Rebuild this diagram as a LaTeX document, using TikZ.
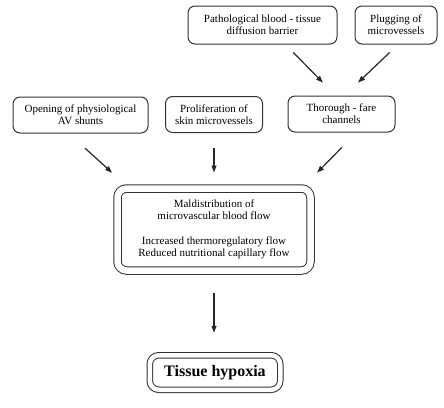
\documentclass[tikz,border=0pt]{standalone}
\usepackage{fontspec}
\setmainfont{Liberation Serif}
\usetikzlibrary{arrows.meta}

\begin{document}
\begin{tikzpicture}[x=1pt,y=-1pt,
    box/.style={draw=black!80, line width=1pt, rounded corners=7pt, align=center, inner sep=0pt, font=\fontsize{11}{12}\selectfont},
    dbox/.style={draw=black!80, line width=1pt, double, double distance=6.5pt, rounded corners=9pt, align=center, inner sep=0pt},
    arr/.style={line width=1.2pt, draw=black!85, -{Triangle[length=7pt,width=5pt]}}]
  \useasboundingbox (0,0) rectangle (444,407);
  \node[box, minimum width=149pt, minimum height=38pt] (path) at (262.5,25) {Pathological blood - tissue\\diffusion barrier};
  \node[box, minimum width=82pt, minimum height=38pt] (plug) at (396,25) {Plugging of\\microvessels};
  \node[box, minimum width=135pt, minimum height=36pt] (open) at (80.5,115) {Opening of physiological\\AV shunts};
  \node[box, minimum width=97pt, minimum height=36pt] (prolif) at (214,114.5) {Proliferation of\\skin microvessels};
  \node[box, minimum width=107pt, minimum height=36pt] (thor) at (341.5,114) {Thorough - fare\\channels};
  \node[dbox, minimum width=193pt, minimum height=82pt, font=\fontsize{11}{12}\selectfont] (main) at (214,229.5)
    {Maldistribution of\\microvascular blood flow\\[13pt]Increased thermoregulatory flow\\Reduced nutritional capillary flow};
  \node[dbox, double distance=4.5pt, minimum width=130.5pt, minimum height=34.5pt, font=\fontsize{16}{18}\selectfont\bfseries] (hyp) at (215,372.5) {Tissue hypoxia};
  \draw[arr, shorten <=11pt, shorten >=18pt] ([xshift=23pt]path.south) -- ([xshift=-6pt]thor.north);
  \draw[arr, shorten <=11.5pt, shorten >=18.7pt] ([xshift=2pt]plug.south) -- ([xshift=3pt]thor.north);
  \draw[arr, shorten <=22pt, shorten >=22.8pt] ([xshift=-11.7pt]open.south) -- ([xshift=-85pt]main.north);
  \draw[arr, shorten <=15pt, shorten >=15.5pt] (prolif.south) -- (main.north);
  \draw[arr, shorten <=20.8pt, shorten >=21.5pt] ([xshift=15pt]thor.south) -- ([xshift=88pt]main.north);
  \draw[arr, shorten <=22pt, shorten >=22pt] (main.south) -- (main.south |- hyp.north);
\end{tikzpicture}
\end{document}
